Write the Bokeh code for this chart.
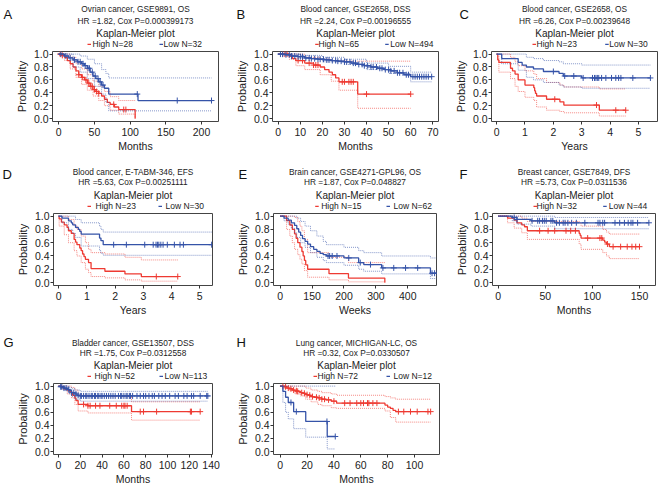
from bokeh.plotting import figure
from bokeh.layouts import column, row
from bokeh.models import Label, FixedTicker, PrintfTickFormatter, Range1d
from bokeh.embed import file_html
from bokeh.resources import INLINE
import numpy as np

# ---------------- data ----------------
# Panel A
A_high_t = [0, 4, 8, 12, 16, 20, 24, 28, 32, 36, 40, 44, 48, 52, 56, 60, 64, 68, 72, 78, 84, 107]
A_high_s = [1.0, 0.98, 0.95, 0.90, 0.85, 0.80, 0.74, 0.68, 0.64, 0.60, 0.55, 0.50, 0.45, 0.42, 0.39, 0.35, 0.30, 0.25, 0.22, 0.18, 0.14, 0.0]
A_high_cens = [2, 5, 28, 33, 38, 42, 45, 47, 50, 53, 56, 77, 91, 94]
A_high_ci_t = [0, 8, 16, 24, 32, 40, 48, 56, 64, 72, 84, 107]
A_high_up = [1.0, 1.0, 0.95, 0.86, 0.77, 0.68, 0.58, 0.50, 0.42, 0.34, 0.28, 0.28]
A_high_lo = [1.0, 0.90, 0.77, 0.64, 0.53, 0.44, 0.35, 0.28, 0.20, 0.13, 0.07, 0.0]
A_low_t = [0, 8, 14, 20, 26, 32, 36, 40, 44, 48, 52, 56, 60, 64, 70, 111]
A_low_s = [1.0, 0.97, 0.94, 0.91, 0.88, 0.85, 0.82, 0.78, 0.72, 0.66, 0.62, 0.57, 0.52, 0.47, 0.38, 0.28]
A_low_cens = [3, 10, 16, 22, 27, 30, 34, 37, 41, 43, 47, 51, 55, 58, 62, 110, 166, 214]
A_low_ci_t = [0, 20, 30, 40, 50, 60, 66, 70]
A_low_up = [1.0, 1.0, 0.97, 0.92, 0.85, 0.76, 0.70, 0.63]
A_low_lo = [1.0, 0.80, 0.72, 0.62, 0.50, 0.38, 0.25, 0.12]

# Panel B
B_high_t = [0, 5, 6.5, 8, 12, 16, 19, 21, 23, 24.5, 26, 27.5, 36]
B_high_s = [1.0, 0.97, 0.93, 0.90, 0.86, 0.83, 0.80, 0.76, 0.72, 0.68, 0.63, 0.57, 0.38]
B_high_cens = [2, 3, 4, 9, 11, 14, 16, 17, 18, 29, 30, 32, 33, 34, 40, 60]
B_high_ci_t = [0, 5, 8, 12, 19, 24, 27.5, 36]
B_high_up = [1.0, 1.0, 1.0, 0.95, 0.92, 0.90, 0.89, 0.89]
B_high_lo = [1.0, 0.92, 0.82, 0.76, 0.68, 0.58, 0.44, 0.16]
B_low_t = [0, 3, 6, 9, 12, 15, 18, 21, 24, 27, 30, 33, 36, 39, 42, 45, 48, 51, 54, 57, 60]
B_low_s = [1.0, 0.99, 0.97, 0.96, 0.94, 0.93, 0.92, 0.91, 0.90, 0.89, 0.88, 0.86, 0.84, 0.82, 0.80, 0.78, 0.76, 0.74, 0.71, 0.68, 0.65]
B_low_cens = [1, 2, 3.5, 5, 6, 7.5, 9, 10, 11, 12.5, 14, 15, 16.5, 18, 19, 20.5, 22, 23, 24.5, 26, 27,
              28.5, 30, 31, 32.5, 34, 35, 36.5, 38, 39, 40.5, 42, 43, 44.5, 46, 47, 48.5, 50, 51, 52.5,
              54, 55, 56.5, 58, 59, 61, 62, 63, 64, 65, 66, 67, 68, 69.5]
B_low_ci_t = [0, 10, 20, 30, 40, 50, 60]
B_low_up = [1.0, 0.98, 0.95, 0.92, 0.86, 0.81, 0.72]
B_low_lo = [1.0, 0.93, 0.88, 0.84, 0.76, 0.70, 0.57]

# Panel C
C_high_t = [0, 0.04, 0.08, 0.49, 0.56, 0.65, 0.76, 1.0, 1.31, 1.34, 1.37, 1.41, 1.76, 2.23, 2.37, 3.62]
C_high_s = [1.0, 0.91, 0.87, 0.78, 0.74, 0.69, 0.60, 0.52, 0.48, 0.43, 0.39, 0.35, 0.30, 0.26, 0.21, 0.13]
C_high_cens = [2.05, 3.52, 4.2, 4.55]
C_high_ci_t = [0, 0.08, 0.49, 0.65, 0.76, 1.0, 1.31, 1.41, 1.76, 2.23, 2.37, 3.62]
C_high_up = [1.0, 1.0, 0.95, 0.88, 0.82, 0.74, 0.69, 0.62, 0.56, 0.52, 0.49, 0.46]
C_high_lo = [1.0, 0.72, 0.62, 0.50, 0.42, 0.33, 0.28, 0.18, 0.13, 0.11, 0.09, 0.04]
C_low_t = [0, 0.18, 0.76, 0.9, 1.05, 1.3, 1.65, 2.2, 2.35, 3.0]
C_low_s = [1.0, 0.93, 0.87, 0.83, 0.80, 0.77, 0.73, 0.70, 0.66, 0.63]
C_low_cens = [2.0, 2.4, 2.72, 3.05, 3.38, 3.45, 3.5, 3.55, 3.6, 3.7, 3.85, 4.05, 4.2, 4.3, 4.38, 4.8, 5.42]
C_low_ci_t = [0, 0.18, 0.76, 1.05, 1.3, 1.65, 2.2, 2.35, 3.0]
C_low_up = [1.0, 1.0, 1.0, 0.95, 0.93, 0.90, 0.88, 0.85, 0.83]
C_low_lo = [1.0, 0.85, 0.75, 0.64, 0.60, 0.56, 0.52, 0.49, 0.47]

# Panel D
D_high_t = [0, 0.02, 0.1, 0.2, 0.3, 0.35, 0.45, 0.55, 0.6, 0.65, 0.75, 0.8, 0.85, 0.9, 0.95, 1.06, 1.15, 1.64, 2.35, 2.93]
D_high_s = [1.0, 0.96, 0.91, 0.87, 0.83, 0.78, 0.74, 0.65, 0.61, 0.57, 0.52, 0.48, 0.43, 0.39, 0.35, 0.30, 0.21, 0.17, 0.13, 0.09]
D_high_cens = [3.46, 4.22]
D_high_ci_t = [0, 0.02, 0.2, 0.35, 0.55, 0.65, 0.8, 0.95, 1.06, 1.15, 1.64, 2.35, 2.93]
D_high_up = [1.0, 1.0, 1.0, 0.95, 0.86, 0.80, 0.70, 0.60, 0.50, 0.45, 0.43, 0.38, 0.34]
D_high_lo = [1.0, 0.85, 0.72, 0.60, 0.48, 0.40, 0.30, 0.20, 0.15, 0.09, 0.07, 0.04, 0.02]
D_low_t = [0, 0.12, 0.35, 0.45, 0.5, 0.6, 0.7, 0.75, 0.8, 1.45, 1.5, 1.58]
D_low_s = [1.0, 0.97, 0.93, 0.90, 0.87, 0.83, 0.80, 0.77, 0.73, 0.67, 0.63, 0.57]
D_low_cens = [1.95, 2.4, 3.05, 3.35, 3.45, 3.5, 3.55, 3.62, 3.7, 3.85, 4.1, 4.3, 4.42, 5.42]
D_low_ci_t = [0, 0.12, 0.35, 0.5, 0.6, 0.8, 1.45, 1.5, 1.58]
D_low_up = [1.0, 1.0, 1.0, 1.0, 0.95, 0.90, 0.85, 0.80, 0.76]
D_low_lo = [1.0, 0.90, 0.80, 0.74, 0.68, 0.55, 0.48, 0.44, 0.41]

# Panel E
E_high_t = [0, 20, 30, 38, 45, 50, 55, 62, 68, 72, 76, 80, 86, 153, 214, 328]
E_high_s = [1.0, 0.933, 0.867, 0.8, 0.733, 0.667, 0.6, 0.533, 0.467, 0.4, 0.333, 0.267, 0.2, 0.133, 0.067, 0.0]
E_high_cens = []
E_high_ci_t = [0, 20, 30, 38, 45, 55, 62, 68, 76, 86, 153, 214, 328]
E_high_up = [1.0, 1.0, 1.0, 1.0, 0.98, 0.92, 0.85, 0.78, 0.65, 0.45, 0.38, 0.30, 0.30]
E_high_lo = [1.0, 0.80, 0.70, 0.60, 0.50, 0.42, 0.35, 0.28, 0.18, 0.08, 0.04, 0.01, 0.0]
E_low_t = [0, 12, 25, 35, 45, 52, 58, 64, 70, 78, 86, 95, 105, 115, 125, 135, 145, 200, 246, 262, 318, 471]
E_low_s = [1.0, 0.97, 0.94, 0.90, 0.86, 0.81, 0.76, 0.71, 0.66, 0.62, 0.58, 0.54, 0.50, 0.47, 0.44, 0.42, 0.40, 0.37, 0.30, 0.27, 0.22, 0.14]
E_low_cens = [150, 155, 163, 178, 215, 251, 283, 322, 356, 393, 431, 476, 484, 491]
E_low_ci_t = [0, 12, 25, 35, 45, 52, 64, 78, 95, 115, 135, 145, 200, 246, 262, 318, 471]
E_low_up = [1.0, 1.0, 1.0, 1.0, 1.0, 0.97, 0.92, 0.85, 0.78, 0.70, 0.62, 0.57, 0.53, 0.48, 0.45, 0.40, 0.37]
E_low_lo = [1.0, 0.93, 0.88, 0.82, 0.75, 0.68, 0.60, 0.53, 0.45, 0.38, 0.33, 0.30, 0.26, 0.20, 0.17, 0.13, 0.06]

# Panel F
F_high_t = [0, 10, 17, 20, 25, 28, 31, 86, 87, 88, 111, 113, 115, 118]
F_high_s = [1.0, 0.97, 0.94, 0.90, 0.87, 0.84, 0.78, 0.74, 0.71, 0.67, 0.64, 0.61, 0.58, 0.54]
F_high_cens = [44, 53, 60, 72, 77, 82, 95, 108, 110, 116, 122, 130, 137, 142, 146, 150]
F_high_ci_t = [0, 10, 17, 25, 31, 86, 88, 111, 115, 118]
F_high_up = [1.0, 1.0, 1.0, 0.97, 0.92, 0.90, 0.85, 0.80, 0.76, 0.73]
F_high_lo = [1.0, 0.90, 0.82, 0.75, 0.65, 0.58, 0.50, 0.45, 0.40, 0.36]
F_low_t = [0, 15, 20, 35, 60]
F_low_s = [1.0, 0.98, 0.95, 0.93, 0.90]
F_low_cens = [17, 20, 36, 42, 44, 47, 49, 51, 56, 58, 62, 65, 69, 71, 74, 78, 83, 92, 106, 108,
              111, 113, 124, 129, 134, 138, 141, 143, 148, 160]
F_low_ci_t = [0, 15, 20, 35, 60]
F_low_up = [1.0, 1.0, 1.0, 1.0, 0.98]
F_low_lo = [1.0, 0.93, 0.88, 0.85, 0.81]

# Panel G
G_high_t = [0, 3, 5, 8, 10, 12, 13, 15, 16, 18, 27, 67]
G_high_s = [1.0, 0.98, 0.96, 0.94, 0.92, 0.90, 0.86, 0.82, 0.78, 0.72, 0.70, 0.61]
G_high_cens = [23, 27, 29, 34, 38, 47, 53, 58, 60, 61, 63, 75, 78, 90, 121, 122, 130]
G_high_ci_t = [0, 3, 8, 12, 15, 18, 27, 67]
G_high_up = [1.0, 1.0, 1.0, 0.98, 0.94, 0.86, 0.84, 0.76]
G_high_lo = [1.0, 0.95, 0.88, 0.82, 0.72, 0.62, 0.59, 0.48]
G_low_t = [0, 2, 5, 8, 10, 12, 15, 17, 20]
G_low_s = [1.0, 0.99, 0.97, 0.95, 0.93, 0.90, 0.88, 0.86, 0.85]
G_low_cens = [2, 3, 5, 7, 9, 12, 14, 16, 18, 20, 21, 23, 25, 26, 28, 30, 31, 33, 34, 36, 37, 39, 40,
              42, 44, 46, 48, 50, 52, 55, 57, 58, 60, 62, 63, 65, 66, 68, 72, 75, 78, 80, 83, 86, 88,
              92, 95, 98, 102, 107, 110, 115, 118, 122, 124, 130, 136, 137]
G_low_ci_t = [0, 5, 10, 12, 15, 20]
G_low_up = [1.0, 1.0, 0.98, 0.96, 0.94, 0.92]
G_low_lo = [1.0, 0.94, 0.88, 0.84, 0.80, 0.77]

# Panel H
H_high_t = [0, 3, 5, 7, 9, 11, 13, 15, 17, 19, 21, 23, 25, 28, 31, 34, 38, 42, 78, 80, 82, 84, 86]
H_high_s = [1.0, 0.99, 0.97, 0.96, 0.94, 0.93, 0.92, 0.90, 0.89, 0.87, 0.86, 0.84, 0.83, 0.82, 0.80, 0.79, 0.77, 0.74, 0.71, 0.68, 0.66, 0.63, 0.61]
H_high_cens = [2, 4, 6, 8, 10, 12, 13, 16, 18, 20, 22, 24, 27, 29, 31, 33, 36, 40, 48, 52, 57, 60,
               62, 65, 66, 69, 72, 88, 92, 97, 102, 110, 112]
H_high_ci_t = [0, 3, 7, 11, 15, 19, 23, 28, 31, 38, 42, 78, 82, 86]
H_high_up = [1.0, 1.0, 1.0, 1.0, 1.0, 0.97, 0.94, 0.92, 0.90, 0.88, 0.86, 0.84, 0.82, 0.80]
H_high_lo = [1.0, 0.97, 0.93, 0.88, 0.85, 0.80, 0.76, 0.72, 0.70, 0.67, 0.66, 0.62, 0.52, 0.45]
H_low_t = [0, 2, 4, 6, 10, 19, 35]
H_low_s = [1.0, 0.92, 0.83, 0.75, 0.61, 0.46, 0.23]
H_low_cens = [8, 12, 34.8, 41]
H_low_ci_t = [0, 2, 4, 6, 10, 19, 35]
H_low_up = [1.0, 1.0, 1.0, 1.0, 1.0, 1.0, 1.0]
H_low_lo = [1.0, 0.75, 0.60, 0.50, 0.35, 0.22, 0.04]

# Texts
letters = ["A", "B", "C", "D", "E", "F", "G", "H"]
title1 = ["Ovrian cancer, GSE9891, OS", "Blood cancer, GSE2658, DSS", "Blood cancer, GSE2658, OS",
          "Blood cancer, E-TABM-346, EFS", "Brain cancer, GSE4271-GPL96, OS", "Breast cancer, GSE7849, DFS",
          "Bladder cancer, GSE13507, DSS", "Lung cancer, MICHIGAN-LC, OS"]
title2 = ["HR =1.82, Cox P=0.000399173", "HR =2.24, Cox P=0.00196555", "HR =6.26, Cox P=0.00239648",
          "HR =5.63, Cox P=0.00251111", "HR =1.87, Cox P=0.048827", "HR =5.73, Cox P=0.0311536",
          "HR =1.75, Cox P=0.0312558", "HR =0.32, Cox P=0.0330507"]
high_n = [28, 65, 23, 23, 15, 32, 52, 72]
low_n = [32, 494, 30, 30, 62, 44, 113, 12]
x_labels = ["Months", "Months", "Years", "Years", "Weeks", "Months", "Months", "Months"]
x_ticks = [[0, 50, 100, 150, 200], [0, 10, 20, 30, 40, 50, 60, 70], [0, 1, 2, 3, 4, 5],
           [0, 1, 2, 3, 4, 5], [0, 100, 200, 300, 400], [0, 50, 100, 150],
           [0, 20, 40, 60, 80, 100, 120, 140], [0, 20, 40, 60, 80, 100]]
y_ticks = [0.0, 0.2, 0.4, 0.6, 0.8, 1.0]

data = {}
for k in "ABCDEFGH":
    g = globals()
    data[k] = {grp: dict(t=g[f"{k}_{grp}_t"], s=g[f"{k}_{grp}_s"], cens=g[f"{k}_{grp}_cens"],
                         ct=g[f"{k}_{grp}_ci_t"], up=g[f"{k}_{grp}_up"], lo=g[f"{k}_{grp}_lo"])
               for grp in ("high", "low")}

# ---------------- style / layout ----------------
RED = "#EE3A32"
BLUE = "#3553A8"
FONT = "Liberation Sans"
TXT = "#222222"

x_ranges = [(-8.8, 223.8), (-2.6, 72.6), (-0.18, 5.67), (-0.18, 5.45), (-21, 490), (-6, 167), (-4.6, 141.3), (-5, 118.6)]
YR = (-0.045, 1.04)
fig_w = [220, 221, 228, 220, 221, 228, 220, 221]
b_left = [52, 52, 50, 53, 53, 51, 53, 53]
b_right = [2, 3, 12, 8, 5, 14, 8, 2]
rows = [dict(hh=49, ph=111, bb=39, ty=(40.5, 29, 16, 5.2), ly=35),
        dict(hh=51, ph=121, bb=47, ty=(40, 29.3, 16, 5.2), ly=37.5),
        dict(hh=49, ph=106, bb=32, ty=(39, 29, 16, 5.2), ly=39.5)]
letter_x = [3, 16, 18, 2, 18, 18, 3, 16]
legend_x = [(87, 92, 159, 163), (94.7, 98, 164.7, 169.7), (91, 95, 163.7, 167.7), (87, 95, 158, 165),
            (94.7, 100.7, 166, 173), (92, 95, 161.7, 167.3), (87, 94, 159, 164), (93, 97, 166, 173)]


def draw_group(p, d, color):
    t, s = list(d["t"]), list(d["s"])
    end = max([t[-1]] + list(d["cens"]))
    p.step(t + [end], s + [s[-1]], mode="after", line_color=color, line_width=1.3)
    ct = list(d["ct"])
    cend = max(end, ct[-1])
    for arr in (d["up"], d["lo"]):
        a = list(arr)
        p.step(ct + [cend], a + [a[-1]], mode="after", line_color=color, line_alpha=0.6,
               line_width=1, line_dash="1 1")
    if len(d["cens"]):
        ta = np.array(t)
        sa = np.array(s)
        cy = [sa[np.searchsorted(ta, c, side="right") - 1] for c in d["cens"]]
        p.scatter(list(d["cens"]), cy, marker="cross", size=6, line_color=color, line_width=1)


def make_header(i):
    r = rows[i // 3]
    w, hh = fig_w[i], r["hh"]
    h = figure(width=w, height=hh, x_range=Range1d(0, w), y_range=Range1d(0, hh),
               output_backend="svg", toolbar_location=None, x_axis_location=None,
               y_axis_location=None, min_border_left=0, min_border_right=0,
               min_border_top=0, min_border_bottom=0, frame_align=False)
    h.grid.visible = False
    h.outline_line_color = None
    h.background_fill_color = "white"
    h.border_fill_color = "white"

    def lab(text, x, y, size, align="center", color=TXT):
        h.add_layout(Label(x=x, y=y, text=text, text_align=align, text_baseline="middle",
                           text_font=FONT, text_font_size=size, text_color=color))

    fw = w - b_left[i] - b_right[i]
    xc = b_left[i] + fw / 2
    ty = r["ty"]
    lab(letters[i], letter_x[i], r["ly"], "13px", "left", "#111111")
    lab(title1[i], xc, ty[0], "8.3px")
    lab(title2[i], xc, ty[1], "8.3px")
    lab("Kaplan-Meier plot", xc, ty[2], "10px")
    rd, rt, bd, bt = legend_x[i]
    h.segment(x0=[rd, bd], y0=[ty[3], ty[3]], x1=[rd + 3.5, bd + 3.5], y1=[ty[3], ty[3]],
              line_color=[RED, BLUE], line_width=1.3)
    lab(f"High N={high_n[i]}", rt, ty[3], "8.5px", "left")
    lab(f"Low N={low_n[i]}", bt, ty[3], "8.5px", "left")
    return h


def make_panel(i):
    k = "ABCDEFGH"[i]
    r = rows[i // 3]
    xr = x_ranges[i]
    p = figure(width=fig_w[i], height=r["ph"], x_range=Range1d(*xr), y_range=Range1d(*YR),
               output_backend="svg", toolbar_location=None,
               min_border_left=b_left[i], min_border_right=b_right[i],
               min_border_top=2, min_border_bottom=r["bb"], frame_align=False)
    p.grid.visible = False
    p.outline_line_color = "#444444"
    p.outline_line_width = 1
    p.background_fill_color = "white"
    p.border_fill_color = "white"

    draw_group(p, data[k]["high"], RED)
    draw_group(p, data[k]["low"], BLUE)

    for ax in (p.xaxis[0], p.yaxis[0]):
        ax.axis_line_color = None
        ax.major_tick_line_color = "#333333"
        ax.major_tick_out = 3
        ax.major_tick_in = 0
        ax.minor_tick_line_color = None
        ax.major_label_text_font = FONT
        ax.major_label_text_font_size = "10.5px"
        ax.major_label_text_color = TXT
        ax.axis_label_text_font = FONT
        ax.axis_label_text_font_style = "normal"
        ax.axis_label_text_color = TXT
    p.xaxis.ticker = FixedTicker(ticks=x_ticks[i])
    if k == "E":
        p.xaxis.major_label_overrides = {100: "150"}
    p.xaxis.axis_label = x_labels[i]
    p.xaxis.axis_label_text_font_size = "10.5px"
    p.xaxis.axis_label_standoff = 1
    p.xaxis.major_label_standoff = 3
    p.yaxis.ticker = FixedTicker(ticks=y_ticks)
    p.yaxis.formatter = PrintfTickFormatter(format="%.1f")
    p.yaxis.axis_label = "Probability"
    p.yaxis.axis_label_text_font_size = "11px"
    p.yaxis.axis_label_standoff = 3
    p.yaxis.major_label_standoff = 1
    return p


cols = []
for i in range(8):
    cols.append(column(make_header(i), make_panel(i)))
layout = column(row(cols[0], cols[1], cols[2]),
                row(cols[3], cols[4], cols[5]),
                row(cols[6], cols[7]))

open("out.html", "w").write(file_html(layout, INLINE))
